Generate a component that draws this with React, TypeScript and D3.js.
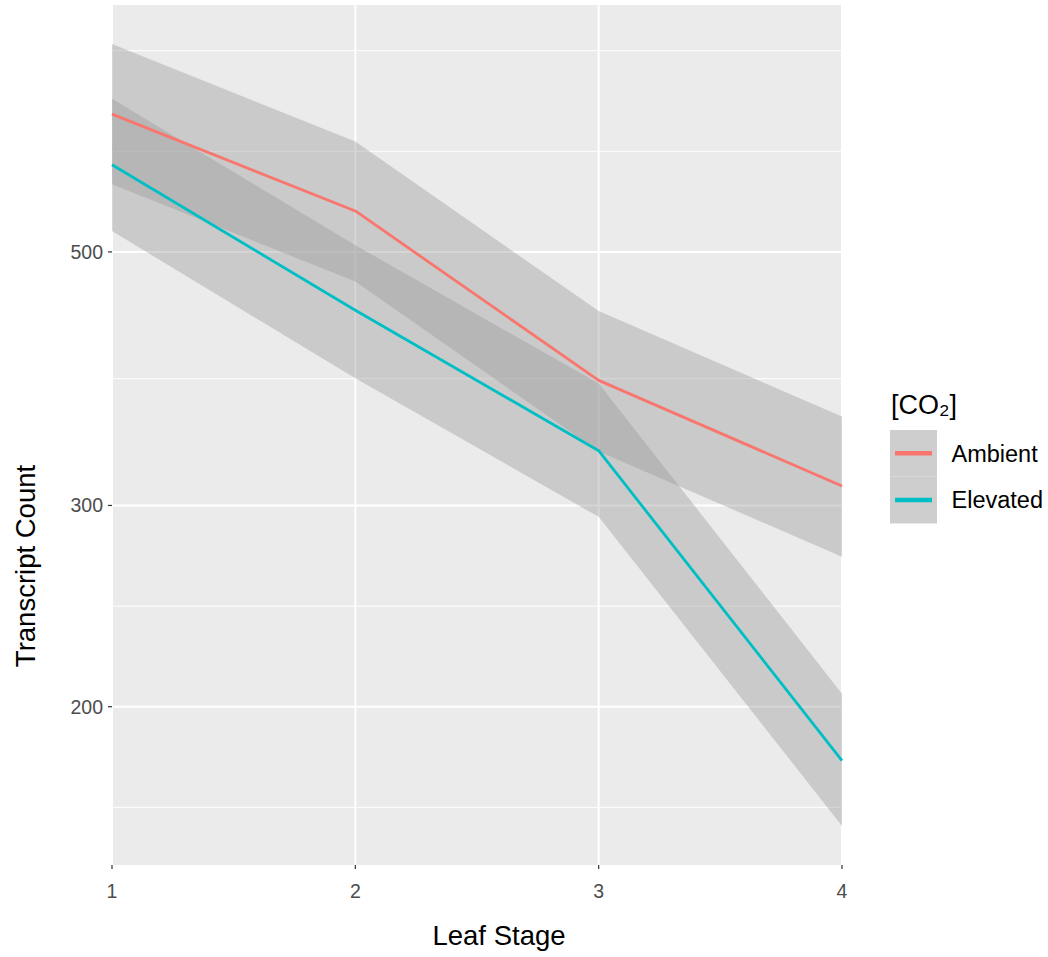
import React from "react";
import * as d3 from "d3";

const stages = [1, 2, 3, 4];
const ambientFit = [660, 543, 386, 312];
const ambientLower = [573, 471, 334.5, 270.6];
const ambientUpper = [760, 624.5, 443.8, 358.8];
const elevatedFit = [596, 444.5, 335, 179.4];
const elevatedLower = [521.4, 387.6, 293.2, 157.3];
const elevatedUpper = [680.7, 506.8, 383.5, 205.3];
const yMajorTicks = [200, 300, 500];
const yMinorTicks = [163.3, 244.9, 387.3, 612.4, 750];
const xTicks = [1, 2, 3, 4];
const seriesNames = ["Ambient", "Elevated"];
const seriesColors = ["#F8766D", "#00BFC4"];

const W = 1048;
const H = 957;
const panel = { left: 112, right: 842, top: 5, bottom: 865 };
const FONT = "'Liberation Sans', Arial, Helvetica, sans-serif";

export default function App() {
  const allVals = [...ambientLower, ...ambientUpper, ...elevatedLower, ...elevatedUpper];
  const lo = Math.log(d3.min(allVals) as number);
  const hi = Math.log(d3.max(allVals) as number);
  const pad = (hi - lo) * 0.05;
  const x = d3.scaleLinear().domain([1, 4]).range([panel.left, panel.right]);
  const y = d3
    .scaleLog()
    .domain([Math.exp(lo - pad), Math.exp(hi + pad)])
    .range([panel.bottom, panel.top]);

  const series = [
    { name: seriesNames[0], color: seriesColors[0], fit: ambientFit, lower: ambientLower, upper: ambientUpper },
    { name: seriesNames[1], color: seriesColors[1], fit: elevatedFit, lower: elevatedLower, upper: elevatedUpper },
  ];

  const area = (lower: number[], upper: number[]) =>
    d3
      .area<number>()
      .x((d) => x(stages[d]))
      .y0((d) => y(lower[d]))
      .y1((d) => y(upper[d]))(stages.map((_, i) => i)) as string;

  const line = (vals: number[]) =>
    d3
      .line<number>()
      .x((d) => x(stages[d]))
      .y((d) => y(vals[d]))(stages.map((_, i) => i)) as string;

  const legendX = 890;
  const legendKeyTop = 430;
  const keyH = 46.7;

  return (
    <svg
      width={W}
      height={H}
      style={{ position: "absolute", left: 0, top: 0, background: "#ffffff" }}
      fontFamily={FONT}
    >
      <rect x={0} y={0} width={W} height={H} fill="#ffffff" />
      <rect
        x={panel.left}
        y={panel.top}
        width={panel.right - panel.left}
        height={panel.bottom - panel.top}
        fill="#EBEBEB"
      />
      {yMinorTicks.map((t) => (
        <line key={"ym" + t} x1={panel.left} x2={panel.right} y1={y(t)} y2={y(t)} stroke="#ffffff" strokeWidth={1} />
      ))}
      {yMajorTicks.map((t) => (
        <line key={"yM" + t} x1={panel.left} x2={panel.right} y1={y(t)} y2={y(t)} stroke="#ffffff" strokeWidth={2} />
      ))}
      {xTicks.map((t) => (
        <line key={"xM" + t} x1={x(t)} x2={x(t)} y1={panel.top} y2={panel.bottom} stroke="#ffffff" strokeWidth={2} />
      ))}
      {series.map((s) => (
        <path key={"r" + s.name} d={area(s.lower, s.upper)} fill="#999999" fillOpacity={0.4} />
      ))}
      {series.map((s) => (
        <path key={"l" + s.name} d={line(s.fit)} fill="none" stroke={s.color} strokeWidth={2.8} strokeLinejoin="round" />
      ))}

      {/* y axis */}
      {yMajorTicks.map((t) => (
        <g key={"yt" + t}>
          <line x1={panel.left - 4} x2={panel.left} y1={y(t)} y2={y(t)} stroke="#333333" strokeWidth={1.2} />
          <text x={panel.left - 9} y={y(t)} dy="0.35em" textAnchor="end" fontSize={19.5} fill="#4D4D4D">
            {t}
          </text>
        </g>
      ))}
      {/* x axis */}
      {xTicks.map((t) => (
        <g key={"xt" + t}>
          <line x1={x(t)} x2={x(t)} y1={panel.bottom} y2={panel.bottom + 4} stroke="#333333" strokeWidth={1.2} />
          <text x={x(t)} y={panel.bottom + 33} textAnchor="middle" fontSize={19.5} fill="#4D4D4D">
            {t}
          </text>
        </g>
      ))}

      <text x={499} y={945} textAnchor="middle" fontSize={27.5} fill="#000000">
        Leaf Stage
      </text>
      <text
        transform={`translate(35,566) rotate(-90)`}
        textAnchor="middle"
        fontSize={27.5}
        fill="#000000"
      >
        Transcript Count
      </text>

      {/* legend */}
      <text x={legendX + 1} y={414} fontSize={27} fill="#000000">
        [CO₂]
      </text>
      {series.map((s, i) => (
        <g key={"lg" + s.name}>
          <rect x={legendX} y={legendKeyTop + i * keyH} width={47} height={keyH} fill="#F2F2F2" />
          <rect x={legendX} y={legendKeyTop + i * keyH} width={47} height={keyH} fill="#999999" fillOpacity={0.4} />
          <line
            x1={legendX + 5}
            x2={legendX + 42}
            y1={legendKeyTop + i * keyH + keyH / 2}
            y2={legendKeyTop + i * keyH + keyH / 2}
            stroke={s.color}
            strokeWidth={4.5}
          />
          <text x={951.5} y={legendKeyTop + i * keyH + keyH / 2} dy="0.35em" fontSize={23.5} fill="#000000">
            {s.name}
          </text>
        </g>
      ))}
    </svg>
  );
}
